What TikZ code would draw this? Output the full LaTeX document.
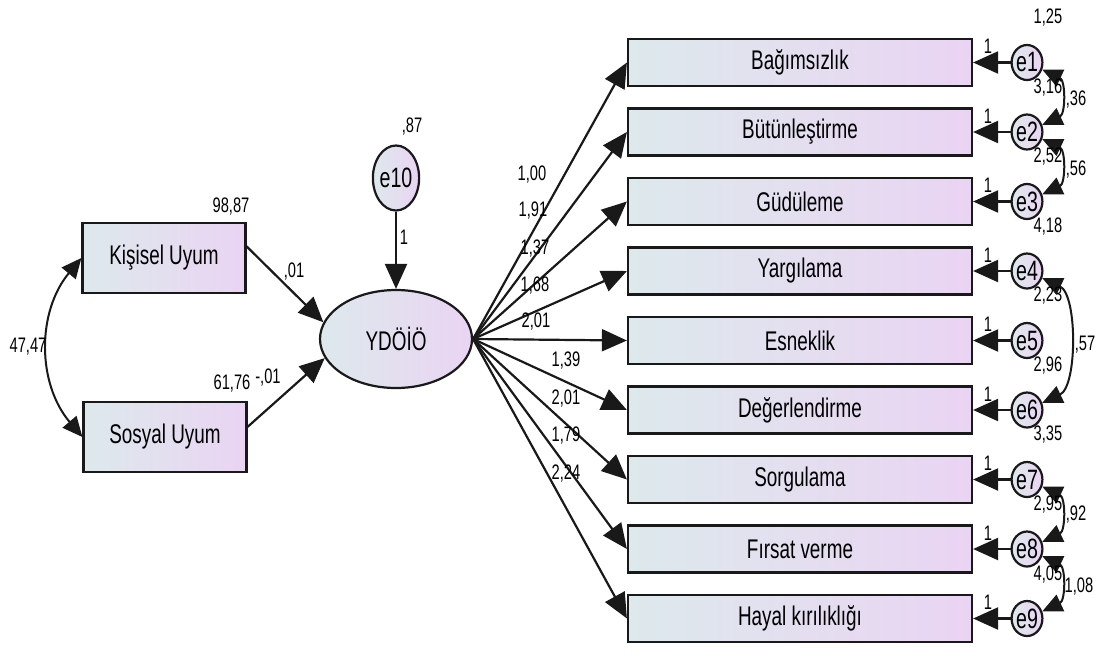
\documentclass[tikz,border=0pt]{standalone}
\usepackage{fontspec}
\setmainfont{Liberation Sans}[FakeStretch=0.7]
\usetikzlibrary{arrows.meta,shapes.geometric}
\definecolor{boxleft}{RGB}{221,233,236}
\definecolor{boxright}{RGB}{234,212,243}
\definecolor{inkline}{RGB}{25,25,25}

\begin{document}
\begin{tikzpicture}[x=1pt,y=-1pt,
    obs/.style={draw=inkline,line width=2.2pt,left color=boxleft,right color=boxright,
      minimum width=344pt,minimum height=47pt,inner sep=0pt,font=\fontsize{27}{30}\selectfont},
    pred/.style={obs,minimum width=163pt,minimum height=70pt},
    err/.style={ellipse,draw=inkline,line width=2.2pt,left color=boxleft,right color=boxright,
      minimum width=30pt,minimum height=35pt,inner sep=0pt,font=\fontsize{28}{30}\selectfont},
    lat/.style={err,minimum width=152pt,minimum height=98pt,font=\fontsize{27}{30}\selectfont},
    num/.style={inner sep=0pt,font=\fontsize{21}{23}\selectfont},
    reg/.style={draw=inkline,line width=2.2pt,-{Triangle[length=25pt,width=22pt]}},
    cov/.style={draw=inkline,line width=2pt,
      {Triangle[length=20pt,width=18pt]}-{Triangle[length=20pt,width=18pt]}}]
          \useasboundingbox (0,0) rectangle (1099,651);

          % left side
          \node[pred] (KU) at (164,258) {Kişisel Uyum};
          \node[pred] (SU) at (165,437) {Sosyal Uyum};
          \node[lat] (YD) at (396,339) {YDÖİÖ};
          \node[err,minimum width=38pt,minimum height=65pt] (e10) at (396,178) {e10};

          % observed variables
          \node[obs] (b1) at (800,62.5) {Bağımsızlık};
          \node[obs] (b2) at (800,132) {Bütünleştirme};
          \node[obs] (b3) at (800,201.5) {Güdüleme};
          \node[obs] (b4) at (800,271) {Yargılama};
          \node[obs] (b5) at (800,340.5) {Esneklik};
          \node[obs] (b6) at (800,410) {Değerlendirme};
          \node[obs] (b7) at (800,479.5) {Sorgulama};
          \node[obs] (b8) at (800,549) {Fırsat verme};
          \node[obs] (b9) at (800,618.5) {Hayal kırılıklığı};

          % errors
          \node[err] (e1) at (1027,62.5) {e1};
          \node[err] (e2) at (1027,132) {e2};
          \node[err] (e3) at (1027,201.5) {e3};
          \node[err] (e4) at (1027,271) {e4};
          \node[err] (e5) at (1027,340.5) {e5};
          \node[err] (e6) at (1027,410) {e6};
          \node[err] (e7) at (1027,479.5) {e7};
          \node[err] (e8) at (1027,549) {e8};
          \node[err] (e9) at (1027,618.5) {e9};

          % paths
          \draw[reg] (KU.8) -- (YD.167);
          \draw[reg] (SU.7) -- (YD.195);
          \draw[reg] (e10) -- (YD);
          \draw[cov] (KU.west) to[bend right=40] (SU.west);

          \draw[reg] (YD.east) -- (b1.west);
          \draw[reg] (YD.east) -- (b2.west);
          \draw[reg] (YD.east) -- (b3.west);
          \draw[reg] (YD.east) -- (b4.west);
          \draw[reg] (YD.east) -- (b5.west);
          \draw[reg] (YD.east) -- (b6.west);
          \draw[reg] (YD.east) -- (b7.west);
          \draw[reg] (YD.east) -- (b8.west);
          \draw[reg] (YD.east) -- (b9.west);

          \draw[reg] (e1) -- (b1);
          \draw[reg] (e2) -- (b2);
          \draw[reg] (e3) -- (b3);
          \draw[reg] (e4) -- (b4);
          \draw[reg] (e5) -- (b5);
          \draw[reg] (e6) -- (b6);
          \draw[reg] (e7) -- (b7);
          \draw[reg] (e8) -- (b8);
          \draw[reg] (e9) -- (b9);

          \draw[cov] (e1) to[out=-25,in=25,looseness=1.2] (e2);
          \draw[cov] (e2) to[out=-25,in=25,looseness=1.2] (e3);
          \draw[cov] (e4) to[out=-25,in=25,looseness=0.8] (e6);
          \draw[cov] (e7) to[out=-25,in=25,looseness=1.2] (e8);
          \draw[cov] (e8) to[out=-25,in=25,looseness=1.2] (e9);

          % estimates
          \node[num] (vKU) at (231,207) {98,87};
          \node[num] (vSU) at (232,384) {61,76};
          \node[num] (wKU) at (294,272) {,01};
          \node[num] (wSU) at (268,378) {-,01};
          \node[num] (cKS) at (28,347) {47,47};
          \node[num] (v10) at (412,127) {,87};
          \node[num] (w10) at (404,237) {1};

          \node[num] (l1) at (532,175) {1,00};
          \node[num] (l2) at (533,211) {1,91};
          \node[num] (l3) at (535,249) {1,37};
          \node[num] (l4) at (535,286) {1,68};
          \node[num] (l5) at (536,322) {2,01};
          \node[num] (l6) at (566,361) {1,39};
          \node[num] (l7) at (566,399) {2,01};
          \node[num] (l8) at (566,436) {1,79};
          \node[num] (l9) at (566,474) {2,24};

          \node[num] (f1) at (988,46.5) {1};
          \node[num] (f2) at (988,116) {1};
          \node[num] (f3) at (988,185.5) {1};
          \node[num] (f4) at (988,255) {1};
          \node[num] (f5) at (988,324.5) {1};
          \node[num] (f6) at (988,394) {1};
          \node[num] (f7) at (988,463.5) {1};
          \node[num] (f8) at (988,533) {1};
          \node[num] (f9) at (988,602.5) {1};

          \node[num] (v1) at (1048,18) {1,25};
          \node[num] (v2) at (1048,88) {3,16};
          \node[num] (v3) at (1048,157) {2,52};
          \node[num] (v4) at (1048,227) {4,18};
          \node[num] (v5) at (1048,296) {2,23};
          \node[num] (v6) at (1048,366) {2,96};
          \node[num] (v7) at (1048,435) {3,35};
          \node[num] (v8) at (1048,505) {2,95};
          \node[num] (v9) at (1048,574) {4,05};

          \node[num] (c12) at (1076,100) {,36};
          \node[num] (c23) at (1076,170) {,56};
          \node[num] (c46) at (1085,345) {,57};
          \node[num] (c78) at (1076,515) {,92};
          \node[num] (c89) at (1079,587) {1,08};
    \end{tikzpicture}
\end{document}
